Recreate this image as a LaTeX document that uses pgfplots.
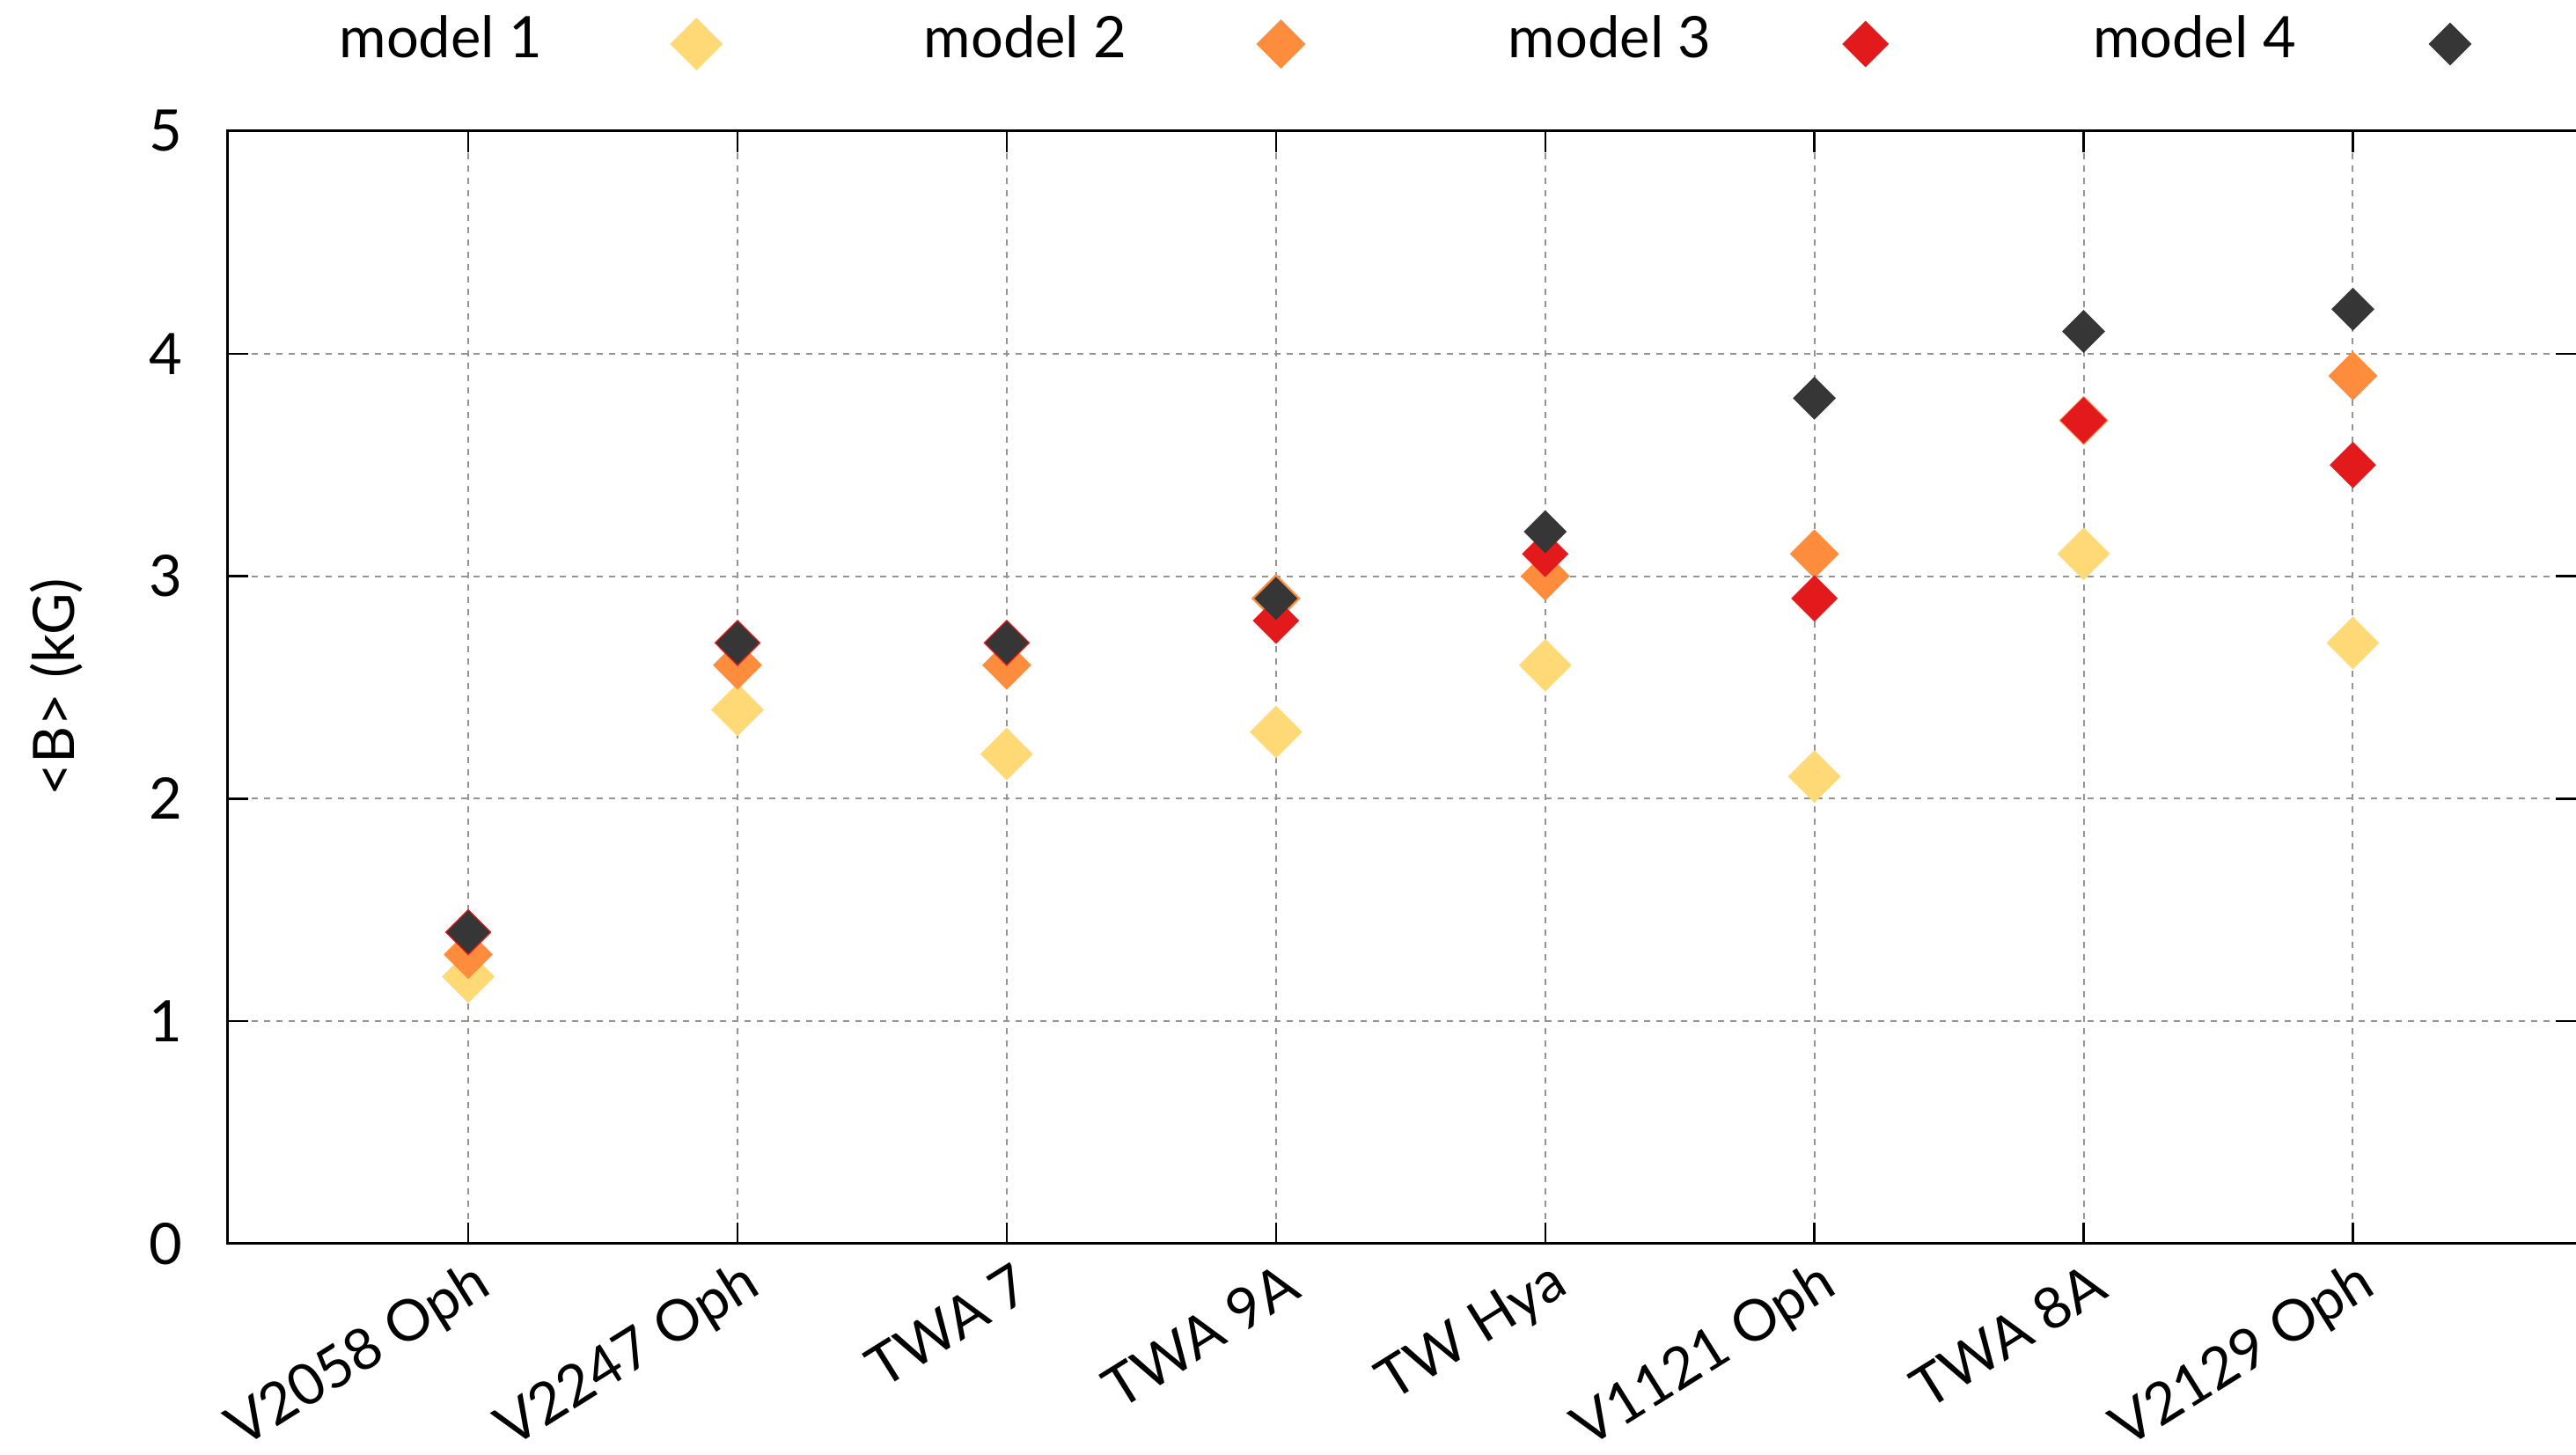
\documentclass[border=0pt]{standalone}
\usepackage{fontspec}
\setmainfont{Lato}
\usepackage{pgfplots}
\pgfplotsset{compat=1.18}
\definecolor{cA}{HTML}{FED976}
\definecolor{cB}{HTML}{FD8D3C}
\definecolor{cC}{HTML}{E31A1C}
\definecolor{cD}{HTML}{363636}
\begin{document}
\fontsize{13pt}{15pt}\selectfont
\begin{tikzpicture}
\begin{axis}[
  name=ax,
  scale only axis,
  width=534pt, height=252.8pt,
  xmin=-0.896, xmax=7.832,
  ymin=0, ymax=5,
  ytick={0,1,2,3,4,5},
  xtick={0,1,2,3,4,5,6,7},
  xticklabels={V2058 Oph,V2247 Oph,TWA 7,TWA 9A,TW Hya,V1121 Oph,TWA 8A,V2129 Oph},
  /pgf/number format/assume math mode=true,
  axis line style={line width=0.6pt, black},
  tick style={line width=0.5pt, black},
  major tick length=4.8pt,
  tick align=inside,
  xtick pos=both, ytick pos=both,
  grid=major,
  major grid style={dash pattern=on 1.4pt off 1.4pt, line width=0.4pt, color=black!42},
  xticklabel style={xshift=3.8pt, yshift=-7.8pt, rotate=32, anchor=east, inner sep=0pt},
  yticklabel style={inner sep=0pt, xshift=-10pt, anchor=east},
  ylabel={<B> (kG)},
  ylabel style={at={(axis description cs:-0.0728,0.5)}, anchor=center},
  legend columns=4,
  legend plot pos=right,
  legend cell align=right,
  legend style={draw=none, fill=none, inner sep=0pt, column sep=0pt,
    at={(axis description cs:0.0474,1)}, anchor=west, yshift=20.1pt,
    nodes={inner sep=0pt}},
  legend image code/.code={\path (0pt,0pt) (86.3pt,0pt); \draw[#1] plot coordinates {(34.8pt,-0.75pt)};},
]
\addplot[only marks, color=cA, mark=diamond*, mark size=5.9pt, mark options={xscale=1.333, line width=0.1pt}]
  coordinates {(0,1.2) (1,2.4) (2,2.2) (3,2.3) (4,2.6) (5,2.1) (6,3.1) (7,2.7)};
\addlegendentry{model 1}
\addplot[only marks, color=cB, mark=diamond*, mark size=5.5pt, mark options={xscale=1.333, line width=0.1pt}]
  coordinates {(0,1.3) (1,2.6) (2,2.6) (3,2.9) (4,3.0) (5,3.1) (6,3.7) (7,3.9)};
\addlegendentry{model 2}
\addplot[only marks, color=cC, mark=diamond*, mark size=5.2pt, mark options={xscale=1.333, line width=0.1pt}]
  coordinates {(0,1.4) (1,2.7) (2,2.7) (3,2.8) (4,3.1) (5,2.9) (6,3.7) (7,3.5)};
\addlegendentry{model 3}
\addplot[only marks, color=cD, mark=diamond*, mark size=4.8pt, mark options={xscale=1.333, line width=0.1pt}]
  coordinates {(0,1.4) (1,2.7) (2,2.7) (3,2.9) (4,3.2) (5,3.8) (6,4.1) (7,4.2)};
\addlegendentry{model 4}
\end{axis}
\pgfresetboundingbox
\path ([shift={(-51.6pt,-48pt)}]ax.south west) rectangle ++(585.4pt,330.6pt);
\end{tikzpicture}
\end{document}
